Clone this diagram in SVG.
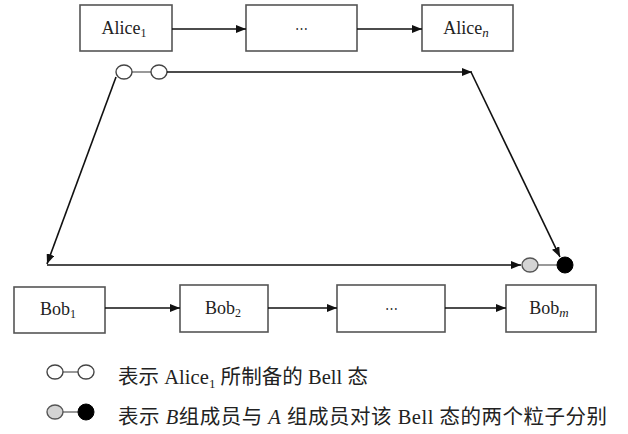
<svg xmlns="http://www.w3.org/2000/svg" width="628" height="434" viewBox="0 0 628 434">
<style>
.box{fill:#fff;stroke:#555;stroke-width:1.6}
.lbl{font-family:"Liberation Serif","DejaVu Serif",serif;font-size:18px;fill:#222;text-anchor:middle}
.dots{font-family:"DejaVu Serif",serif;font-size:13px;fill:#333;text-anchor:middle}
.conn{stroke:#111;stroke-width:1.6;fill:none}
.thin{stroke:#555;stroke-width:1.2;fill:none}
.leg{font-family:"Liberation Serif","Noto Sans CJK SC",serif;font-size:20.5px;fill:#222}
.open{fill:#fff;stroke:#444;stroke-width:1.4}
.gray{fill:#d4d4d4;stroke:#555;stroke-width:1.4}
.black{fill:#000;stroke:#000;stroke-width:1}
</style>
<defs>
<marker id="arr" markerUnits="userSpaceOnUse" markerWidth="11" markerHeight="8" refX="10" refY="4" orient="auto">
<path d="M0,0 L10,4 L0,8 z" fill="#111"/>
</marker>
</defs>
<rect width="628" height="434" fill="#fff"/>

<g id="alice1"><rect class="box" x="80" y="5" width="92" height="46"/><text class="lbl" x="124" y="34">Alice<tspan font-size="12" dy="3">1</tspan></text></g>
<g id="alicedots"><rect class="box" x="246" y="5" width="111" height="46"/><text class="dots" x="301" y="33">⋯</text></g>
<g id="alicen"><rect class="box" x="422" y="5" width="91" height="46"/><text class="lbl" x="466" y="34">Alice<tspan font-size="13" font-style="italic" dy="3">n</tspan></text></g>

<g id="bob1"><rect class="box" x="14" y="287" width="91" height="46"/><text class="lbl" x="58" y="315">Bob<tspan font-size="12" dy="3">1</tspan></text></g>
<g id="bob2"><rect class="box" x="180" y="285" width="88" height="47"/><text class="lbl" x="223" y="314">Bob<tspan font-size="12" dy="3">2</tspan></text></g>
<g id="bobdots"><rect class="box" x="337" y="285" width="108" height="47"/><text class="dots" x="391" y="313">⋯</text></g>
<g id="bobm"><rect class="box" x="506" y="285" width="90" height="47"/><text class="lbl" x="549" y="314">Bob<tspan font-size="13" font-style="italic" dy="3">m</tspan></text></g>

<g id="bellpair">
<line class="thin" x1="132" y1="72" x2="151" y2="72"/>
<ellipse class="open" cx="124" cy="72" rx="8" ry="7"/>
<ellipse class="open" cx="159" cy="72" rx="8" ry="7"/>
</g>
<g id="particles">
<line class="thin" x1="538" y1="265" x2="557" y2="265"/>
<ellipse class="gray" cx="530" cy="265" rx="8" ry="7"/>
<circle class="black" cx="565" cy="265" r="8"/>
</g>

<g id="connectors">
<line class="conn" x1="172" y1="29" x2="246" y2="29" marker-end="url(#arr)"/>
<line class="conn" x1="357" y1="29" x2="422" y2="29" marker-end="url(#arr)"/>
<line class="conn" x1="105" y1="308" x2="180" y2="308" marker-end="url(#arr)"/>
<line class="conn" x1="268" y1="308" x2="337" y2="308" marker-end="url(#arr)"/>
<line class="conn" x1="445" y1="308" x2="506" y2="308" marker-end="url(#arr)"/>
<line class="conn" x1="167" y1="72" x2="472" y2="72" marker-end="url(#arr)"/>
<line class="conn" x1="471" y1="72" x2="560" y2="257" marker-end="url(#arr)"/>
<line class="conn" x1="116" y1="77" x2="47" y2="264" marker-end="url(#arr)"/>
<line class="conn" x1="47" y1="265" x2="521" y2="265" marker-end="url(#arr)"/>
</g>

<g id="legend">
<line class="thin" x1="63" y1="372" x2="78" y2="372"/>
<ellipse class="open" cx="55" cy="372" rx="8" ry="7"/>
<ellipse class="open" cx="86" cy="372" rx="8" ry="7"/>
<line class="thin" x1="63" y1="412" x2="78" y2="412"/>
<ellipse class="gray" cx="55" cy="412" rx="8" ry="7"/>
<circle class="black" cx="86" cy="412" r="8"/>
<text class="leg" x="118" y="384" textLength="250" lengthAdjust="spacing">表示 Alice<tspan font-size="13" dy="4">1</tspan><tspan dy="-4"> 所制备的 Bell 态</tspan></text>
<text class="leg" x="118" y="424" textLength="489" lengthAdjust="spacing">表示 <tspan font-style="italic">B</tspan>组成员与 <tspan font-style="italic">A</tspan> 组成员对该 Bell 态的两个粒子分别</text>
</g>
</svg>
